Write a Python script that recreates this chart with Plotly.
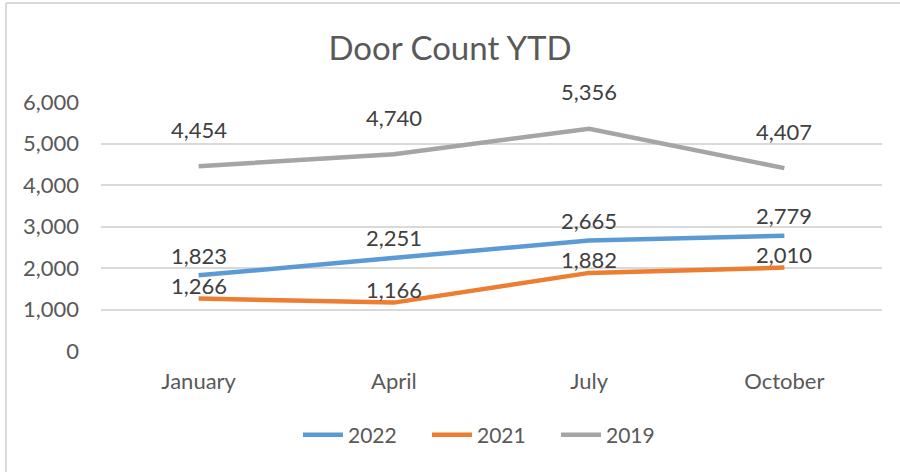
import plotly.graph_objects as go

months = ["January", "April", "July", "October"]
series_names = ["2022", "2021", "2019"]
values_2022 = [1823, 2251, 2665, 2779]
values_2021 = [1266, 1166, 1882, 2010]
values_2019 = [4454, 4740, 5356, 4407]
y_ticks = [0, 1000, 2000, 3000, 4000, 5000, 6000]

colors = {"2022": "#5B9BD5", "2021": "#ED7D31", "2019": "#A5A5A5"}
label_shift = {"2022": 20, "2021": 13, "2019": 37}
data = {"2022": values_2022, "2021": values_2021, "2019": values_2019}

FONT = "Lato, Open Sans, sans-serif"

fig = go.Figure()
for name in series_names:
    fig.add_trace(go.Scatter(
        x=months, y=data[name], name=name, mode="lines",
        line=dict(color=colors[name], width=4.5),
    ))

annotations = []
for name in series_names:
    for m, v in zip(months, data[name]):
        annotations.append(dict(
            x=m, y=v, xref="x", yref="y", text=f"{v:,}", showarrow=False,
            yshift=label_shift[name], font=dict(size=22, color="#404040", family=FONT),
        ))

L, R, T, B = 101, 18, 102, 121
W, H = 900, 472
pw, ph = W - L - R, H - T - B
shapes = [
    dict(type="line", xref="paper", yref="paper",
         x0=(6 - L) / pw, x1=(W - L) / pw, y0=1 + (T - 3) / ph, y1=1 + (T - 3) / ph,
         line=dict(color="#D9D9D9", width=2)),
    dict(type="line", xref="paper", yref="paper",
         x0=(6 - L) / pw, x1=(6 - L) / pw, y0=1 + (T - 3) / ph, y1=-(B) / ph,
         line=dict(color="#D9D9D9", width=2)),
]

fig.update_layout(
    width=W, height=H,
    margin=dict(l=L, r=R, t=T, b=B),
    paper_bgcolor="white", plot_bgcolor="white",
    title=dict(text="Door Count YTD", x=0.5, xanchor="center", y=1 - 48 / H, yanchor="middle",
               font=dict(size=33, color="#595959", family=FONT)),
    xaxis=dict(type="category", range=[-0.5, 3.5], showgrid=False, showline=False,
               ticks="", ticklabelstandoff=15,
               tickfont=dict(size=22, color="#595959", family=FONT)),
    yaxis=dict(range=[0, 6000], tickvals=y_ticks, ticktext=[f"{t:,}" for t in y_ticks],
               showgrid=True, gridcolor="#D9D9D9", gridwidth=1.5, zeroline=False,
               showline=False, ticks="", ticklabelstandoff=21,
               tickfont=dict(size=22, color="#595959", family=FONT)),
    legend=dict(orientation="h", x=0.5, xanchor="center", y=-(435 - (H - B)) / ph,
                yanchor="middle", font=dict(size=21, color="#595959", family=FONT),
                itemwidth=40, entrywidth=74),
    annotations=annotations,
    shapes=shapes,
    showlegend=True,
)

fig.write_html("out.html", config={"displayModeBar": False},
               post_script="document.body.style.margin='0';")
